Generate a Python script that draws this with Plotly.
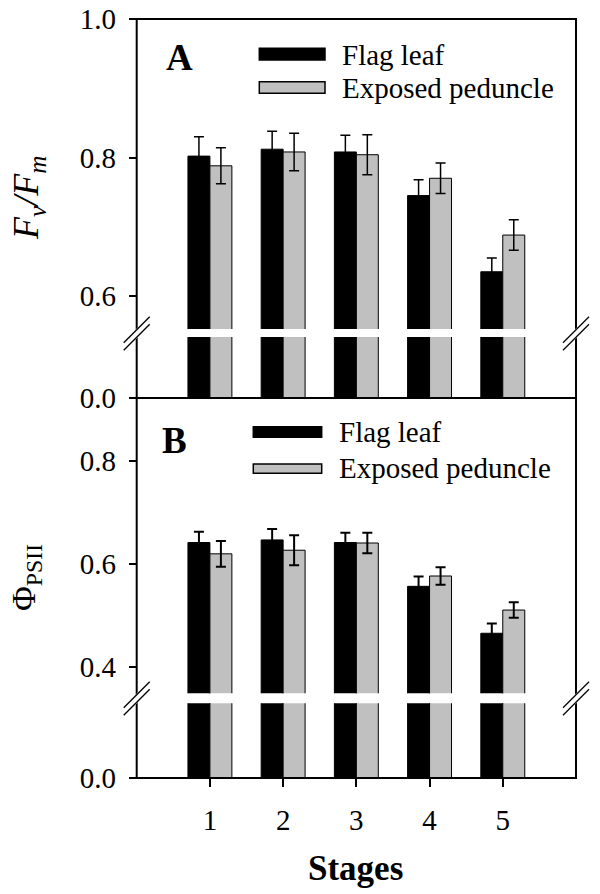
import plotly.graph_objects as go

# ---------------- data ----------------
stages = [1, 2, 3, 4, 5]
stage_labels = ["1", "2", "3", "4", "5"]
series_names = ["Flag leaf", "Exposed peduncle"]

fvfm_flag = [0.802, 0.812, 0.808, 0.745, 0.635]
fvfm_flag_err = [0.028, 0.026, 0.024, 0.023, 0.020]
fvfm_ped = [0.788, 0.808, 0.804, 0.770, 0.688]
fvfm_ped_err = [0.026, 0.027, 0.029, 0.022, 0.022]

phi_flag = [0.642, 0.647, 0.642, 0.557, 0.466]
phi_flag_err = [0.021, 0.021, 0.019, 0.019, 0.019]
phi_ped = [0.620, 0.627, 0.641, 0.577, 0.511]
phi_ped_err = [0.025, 0.029, 0.020, 0.017, 0.015]

a_ticks = [0.6, 0.8, 1.0]
a_ticklabels = ["0.6", "0.8", "1.0"]
b_ticks = [0.4, 0.6, 0.8]
b_ticklabels = ["0.4", "0.6", "0.8"]

# ---------------- geometry helpers ----------------
W, H = 600, 894
FONT = "Liberation Serif"
BLACK = "#000000"
GREY = "#c0c0c0"


def px(x):
    return x / W


def py(y):
    return 1 - y / H


LEFT, RIGHT = 136.7, 576.0
A_TOP, A_BREAK_HI, A_BREAK_LO, A_BOT = 19.0, 329.0, 337.0, 398.0
B_TOP, B_BREAK_HI, B_BREAK_LO, B_BOT = 398.0, 693.3, 703.3, 778.0

fig = go.Figure()


def add_pair(yaxis, flag, flag_err, ped, ped_err, with_err, thick):
    fig.add_trace(go.Bar(
        x=stages, y=flag, name=series_names[0], xaxis="x", yaxis=yaxis,
        width=0.3, offset=-0.3,
        marker=dict(color=BLACK, line=dict(color=BLACK, width=1)),
        error_y=dict(type="data", array=flag_err, visible=with_err,
                     color=BLACK, thickness=thick, width=5),
        showlegend=False, hoverinfo="skip"))
    fig.add_trace(go.Bar(
        x=stages, y=ped, name=series_names[1], xaxis="x", yaxis=yaxis,
        width=0.3, offset=0.0,
        marker=dict(color=GREY, line=dict(color=BLACK, width=1)),
        error_y=dict(type="data", array=ped_err, visible=with_err,
                     color=BLACK, thickness=thick, width=5),
        showlegend=False, hoverinfo="skip"))


# panel A upper / lower, panel B upper / lower
add_pair("y", fvfm_flag, fvfm_flag_err, fvfm_ped, fvfm_ped_err, True, 1.5)
add_pair("y2", fvfm_flag, fvfm_flag_err, fvfm_ped, fvfm_ped_err, False, 1.5)
add_pair("y3", phi_flag, phi_flag_err, phi_ped, phi_ped_err, True, 2)
add_pair("y4", phi_flag, phi_flag_err, phi_ped, phi_ped_err, False, 2)

tickfont = dict(family=FONT, size=29, color=BLACK)
common_y = dict(showgrid=False, zeroline=False, showline=False,
                ticks="outside", ticklen=7, tickwidth=2, tickcolor=BLACK,
                tickfont=tickfont, automargin=False, fixedrange=True,
                ticklabelstandoff=7)

a_scale = (296.0 - 19.0) / 0.4
b_scale = (667.3 - 461.0) / 0.4
a_lo_val = 0.6 - (A_BREAK_HI - 296.0) / a_scale
b_hi_val = 0.8 + (461.0 - B_TOP) / b_scale
b_lo_val = 0.4 - (B_BREAK_HI - 667.3) / b_scale

fig.update_layout(
    template="none",
    width=W, height=H,
    margin=dict(l=0, r=0, t=0, b=0),
    paper_bgcolor="white", plot_bgcolor="rgba(0,0,0,0)",
    barmode="overlay",
    showlegend=False,
    xaxis=dict(domain=[px(LEFT), px(RIGHT)], range=[0, 6], anchor="y4",
               tickvals=stages, ticktext=stage_labels, ticks="outside",
               ticklen=8, tickwidth=2, tickcolor=BLACK, tickfont=tickfont,
               showgrid=False, zeroline=False, showline=False,
               automargin=False, fixedrange=True, ticklabelstandoff=8),
    yaxis=dict(domain=[py(A_BREAK_HI), py(A_TOP)], range=[a_lo_val, 1.0],
               tickvals=a_ticks, ticktext=a_ticklabels, anchor="x", **common_y),
    yaxis2=dict(domain=[py(A_BOT), py(A_BREAK_LO)], range=[0, 0.1],
                tickvals=[0.0], ticktext=["0.0"], anchor="x", **common_y),
    yaxis3=dict(domain=[py(B_BREAK_HI), py(B_TOP)], range=[b_lo_val, b_hi_val],
                tickvals=b_ticks, ticktext=b_ticklabels, anchor="x", **common_y),
    yaxis4=dict(domain=[py(B_BOT), py(B_BREAK_LO)], range=[0, 0.1],
                tickvals=[0.0], ticktext=["0.0"], anchor="x", **common_y),
)

shapes = []
for top, bot in [(A_TOP, A_BOT), (B_TOP, B_BOT)]:
    shapes.append(dict(type="rect", xref="paper", yref="paper",
                       x0=px(LEFT), x1=px(RIGHT), y0=py(bot), y1=py(top),
                       line=dict(color=BLACK, width=2), fillcolor="rgba(0,0,0,0)"))


def break_mark(cx, cy):
    dx, dy, sep = 13, 13, 7.5
    out = [dict(type="line", xref="paper", yref="paper",
                x0=px(cx - dx), y0=py(cy + dy), x1=px(cx + dx), y1=py(cy - dy),
                line=dict(color="white", width=7))]
    for off in (-sep / 2, sep / 2):
        out.append(dict(type="line", xref="paper", yref="paper",
                        x0=px(cx - dx), y0=py(cy + dy + off),
                        x1=px(cx + dx), y1=py(cy - dy + off),
                        line=dict(color=BLACK, width=1.3)))
    return out


for cy in (333.5, 698.5):
    shapes += break_mark(LEFT, cy)
    shapes += break_mark(RIGHT, cy)


def legend_keys(x0, x1, yb, yg):
    return [
        dict(type="rect", xref="paper", yref="paper", x0=px(x0), x1=px(x1),
             y0=py(yb[1]), y1=py(yb[0]), fillcolor=BLACK,
             line=dict(color=BLACK, width=1.5)),
        dict(type="rect", xref="paper", yref="paper", x0=px(x0), x1=px(x1),
             y0=py(yg[1]), y1=py(yg[0]), fillcolor=GREY,
             line=dict(color=BLACK, width=1.5)),
    ]


shapes += legend_keys(259.3, 325.0, (48.3, 60.0), (81.7, 93.3))
shapes += legend_keys(253.3, 321.7, (426.7, 437.3), (464.0, 473.3))
fig.update_layout(shapes=shapes)

ann = []


def text(x, y, s, size, xanchor="center", angle=0):
    ann.append(dict(xref="paper", yref="paper", x=px(x), y=py(y), text=s,
                    showarrow=False, xanchor=xanchor, yanchor="middle",
                    textangle=angle,
                    font=dict(family=FONT, size=size, color=BLACK)))


text(340, 55, series_names[0], 29, "left")
text(340, 88, series_names[1], 29, "left")
text(336.7, 432, series_names[0], 29, "left")
text(336.7, 468, series_names[1], 29, "left")
text(179, 58, "<b>A</b>", 37)
text(174.5, 440, "<b>B</b>", 37)
text(28, 198, "<i>F</i><sub><i>v</i></sub><i>/F</i><sub><i>m</i></sub>", 36, angle=-90)
text(26, 578, "Φ<sub>PSII</sub>", 34, angle=-90)
text(355, 868, "<b>Stages</b>", 35)
fig.update_layout(annotations=ann)

fig.write_html(
    "out.html",
    config={"displayModeBar": False},
    post_script="document.body.style.margin='0';document.body.style.overflow='hidden';",
)
